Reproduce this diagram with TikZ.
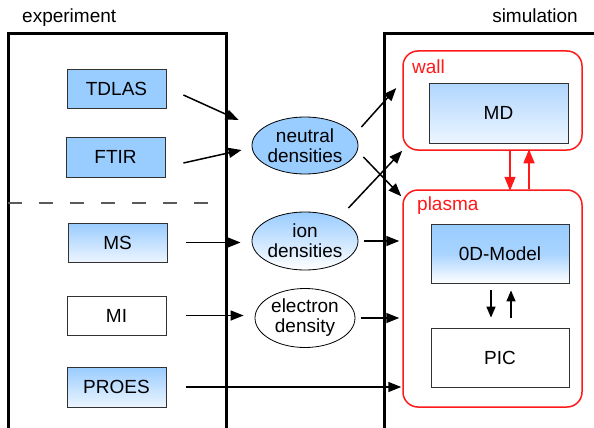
\documentclass[tikz,border=0pt]{standalone}
\usepackage{fontspec}
\setmainfont{Liberation Sans}
\usetikzlibrary{arrows.meta,calc,shapes.geometric}
\definecolor{lblue}{RGB}{153,204,255}
\definecolor{pblue}{RGB}{236,245,255}
\definecolor{mdtop}{RGB}{176,214,255}
\definecolor{boxline}{RGB}{50,50,50}
\definecolor{myred}{RGB}{255,25,25}
\definecolor{dashgray}{RGB}{90,90,90}
\tikzset{
  frame/.style={line width=3pt},
  boxbase/.style={draw=boxline, line width=0.8pt, rectangle, inner sep=0pt, minimum width=99pt, minimum height=39pt},
  bluebox/.style={boxbase, fill=lblue},
  gradbox/.style={boxbase, top color=lblue, bottom color=pblue},
  whitebox/.style={boxbase, fill=white},
  ellbase/.style={draw=black, line width=0.8pt, ellipse, inner sep=0pt, minimum width=100pt, minimum height=58pt, align=center, font=\fontsize{19}{20}\selectfont},
  redbox/.style={draw=myred, line width=1.5pt, rectangle, rounded corners=15pt, inner sep=0pt},
  redlabel/.style={text=myred, anchor=base west, inner sep=0pt},
  arr/.style={-{Triangle[length=13pt,width=10pt]}, line width=1.5pt},
  redarr/.style={-{Triangle[length=14pt,width=11pt]}, line width=1.5pt, draw=myred, fill=myred},
  smallarr/.style={-{Triangle[length=11pt,width=9pt]}, line width=1.5pt},
}
\begin{document}
\begin{tikzpicture}[x=1pt,y=-1pt, font=\fontsize{19}{21}\selectfont]
\useasboundingbox (0,0) rectangle (594,428);
% frames
\draw[frame] (8,430) -- (8,34) -- (226,34) -- (226,430);
\draw[frame] (384,430) -- (384,34) -- (596,34);
\node[anchor=base west, inner sep=0pt] (exp) at (22,23) {experiment};
\node[anchor=base east, inner sep=0pt] (sim) at (578,23) {simulation};
\draw[dashgray, line width=1.2pt, dash pattern=on 14pt off 17pt] (8,203) -- (214,203);
% experiment boxes
\node[bluebox] (tdlas) at (116.5,88.5) {TDLAS};
\node[bluebox, minimum height=40pt] (ftir) at (115.5,157) {FTIR};
\node[gradbox] (ms) at (117.5,242.5) {MS};
\node[whitebox] (mi) at (116.5,315.5) {MI};
\node[gradbox, minimum height=40pt] (proes) at (116.5,387) {PROES};
% ellipses
\node[ellbase, fill=lblue, minimum height=57pt] (neutral) at (305,145.5) {neutral\\densities};
\node[ellbase, top color=lblue, bottom color=white] (ion) at (305,241) {ion\\densities};
\node[ellbase, fill=white, minimum height=59pt] (electron) at (305,318) {electron\\density};
% simulation
\node[redbox, minimum width=179pt, minimum height=99pt] (wall) at (492.5,100.5) {};
\node[redlabel] (walllab) at (412,74) {wall};
\node[boxbase, top color=mdtop, bottom color=pblue, minimum width=139pt, minimum height=60pt] (md) at (498.5,113) {MD};
\node[redbox, minimum width=179pt, minimum height=217pt] (plasma) at (492.5,298.5) {};
\node[redlabel] (plasmalab) at (417,210) {plasma};
\node[boxbase, top color=lblue, bottom color=white, middle color=lblue!85!white, minimum width=138pt, minimum height=59pt] (model) at (500,253.5) {0D-Model};
\node[whitebox, minimum width=138pt, minimum height=59pt] (pic) at (500,357.5) {PIC};
% arrows
\draw[arr] ($(tdlas.east)+(17,6.5)$) -- ($(neutral.west)+(-13,-25.5)$);
\draw[arr] ($(ftir.east)+(18,6)$) -- ($(neutral.west)+(-10,4.5)$);
\draw[arr] ($(neutral.east)+(3,-18.5)$) -- ($(wall.west)+(-6,-12.5)$);
\draw[arr] ($(neutral.east)+(5,11.5)$) -- ($(plasma.north west)+(-1,7)$);
\draw[arr] ($(ion.east)+(-10,-33)$) -- ($(wall.south west)+(0,0)$);
\draw[arr] ($(ms.east)+(19,0)$) -- ($(ms.east -| ion.west)+(-11,0)$);
\draw[arr] ($(ion.east)+(6,0)$) -- ($(ion.east -| plasma.west)+(-3,0)$);
\draw[arr] ($(mi.east)+(20,0)$) -- ($(mi.east -| electron.west)+(-11,0)$);
\draw[arr] ($(electron.east)+(6,0)$) -- ($(electron.east -| plasma.west)+(-3,0)$);
\draw[arr] ($(proes.east)+(20,0)$) -- ($(proes.east -| plasma.west)+(-1,0)$);
% red arrows
\draw[redarr] ($(wall.south)+(17.5,0)$) -- ($(wall.south -| plasma.north)+(17.5,40)$);
\draw[redarr] ($(plasma.north)+(36.5,0)$) -- ($(plasma.north -| wall.south)+(36.5,-40)$);
% small arrows
\draw[smallarr] ($(model.south)+(-9,7)$) -- ($(pic.north)+(-9,-10)$);
\draw[smallarr] ($(pic.north)+(11,-10)$) -- ($(model.south)+(11,7)$);
\end{tikzpicture}
\end{document}
